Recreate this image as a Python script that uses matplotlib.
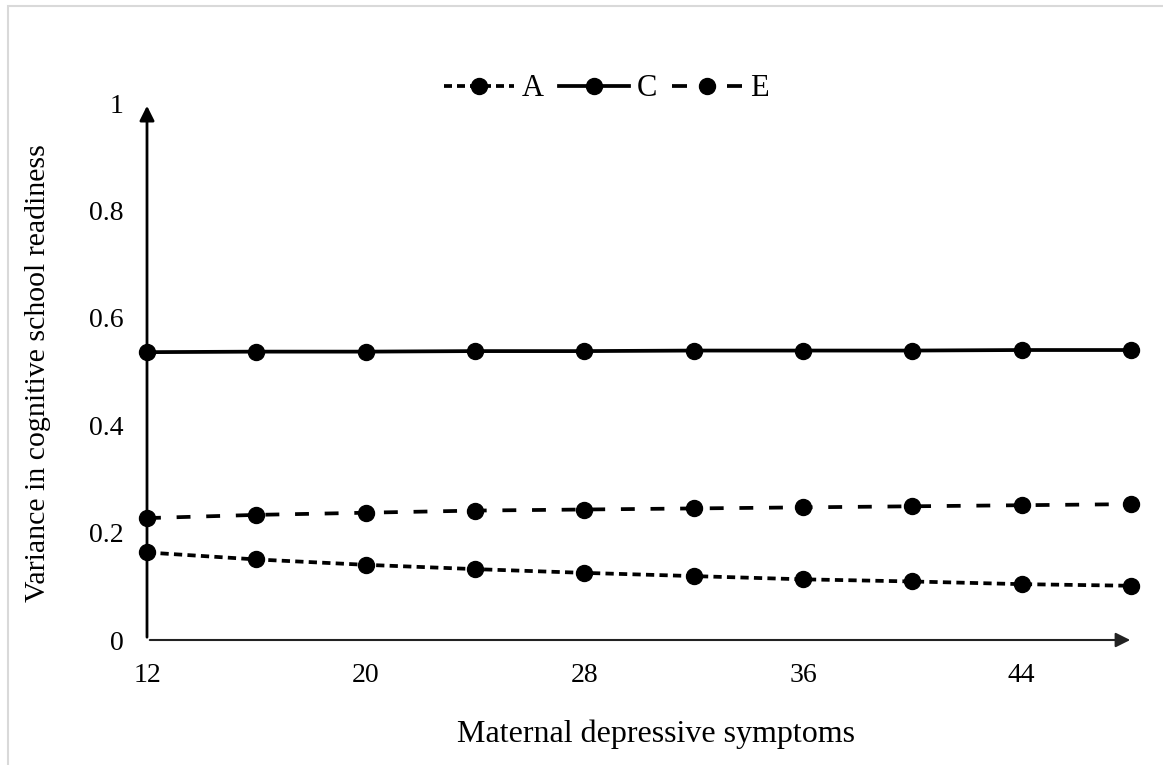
import matplotlib
matplotlib.use("Agg")
import matplotlib.pyplot as plt
from matplotlib.patches import Rectangle
from matplotlib.lines import Line2D

plt.rcParams['font.family'] = ['Liberation Serif', 'DejaVu Serif']

x = [12, 16, 20, 24, 28, 32, 36, 40, 44, 48]
A = [0.163, 0.150, 0.140, 0.132, 0.125, 0.119, 0.113, 0.109, 0.104, 0.101]
C = [0.536, 0.537, 0.537, 0.538, 0.538, 0.539, 0.539, 0.539, 0.540, 0.540]
E = [0.227, 0.233, 0.237, 0.241, 0.243, 0.245, 0.247, 0.249, 0.251, 0.253]
series_names = ['A', 'C', 'E']
xticks = [12, 20, 28, 36, 44]
yticks = [0, 0.2, 0.4, 0.6, 0.8, 1]
ytick_labels = ['0', '0.2', '0.4', '0.6', '0.8', '1']

W, H = 1163, 765
fig = plt.figure(figsize=(W / 100, H / 100), dpi=100)

# light gray outer frame
fig.patches.append(Rectangle((8 / W, -0.01), 1.02, 1 - 6 / H + 0.01, transform=fig.transFigure,
                             fill=False, edgecolor='#d9d9d9', linewidth=1.5))

left, right = 147, 1131
top, bottom = 103, 640
ax = fig.add_axes([left / W, 1 - bottom / H, (right - left) / W, (bottom - top) / H])
ax.set_xlim(12, 48)
ax.set_ylim(0, 1)
for s in ax.spines.values():
    s.set_visible(False)

ms = 11.5
lw = 2.7
styleA = (0, (2.2, 1.4))
styleE = (0, (3.7, 4.2))
ax.plot(x, A, color='black', lw=lw, linestyle=styleA, marker='o', ms=ms, clip_on=False)
ax.plot(x, C, color='black', lw=lw, linestyle='-', marker='o', ms=ms, clip_on=False)
ax.plot(x, E, color='black', lw=lw, linestyle=styleE, marker='o', ms=ms, clip_on=False)

# axes with arrows
ax.annotate('', xy=(1.002, 0), xytext=(0, 0), xycoords='axes fraction',
            arrowprops=dict(arrowstyle='-|>', color='#222222', lw=1.5, mutation_scale=22), annotation_clip=False)
ax.annotate('', xy=(0, 1.0), xytext=(0, 0), xycoords='axes fraction',
            arrowprops=dict(arrowstyle='-|>', color='black', lw=2, mutation_scale=22), annotation_clip=False)

ax.set_xticks(xticks)
ax.set_xticklabels([str(v) for v in xticks])
ax.set_yticks(yticks)
ax.set_yticklabels(ytick_labels)
ax.tick_params(axis='both', length=0, labelsize=20)
ax.tick_params(axis='x', pad=16.5)
ax.tick_params(axis='y', pad=17)

fig.text(656 / W, 1 - 734 / H, 'Maternal depressive symptoms', ha='center', va='center', fontsize=23)
fig.text(38 / W, 1 - 373 / H, 'Variance in cognitive school readiness', ha='center', va='center',
         rotation=90, fontsize=21.5)

# legend handles
lw_px = lw * 100 / 72
hA = Line2D([], [], color='black', lw=lw, linestyle=(0, (8 / lw_px, 5 / lw_px)), marker='o', ms=ms)
hC = Line2D([], [], color='black', lw=lw, linestyle='-', marker='o', ms=ms)
hE = Line2D([], [], color='black', lw=lw, linestyle=(0, (15 / lw_px, 40 / lw_px)), marker='o', ms=ms)
fs_leg = 22
em = fs_leg * 100 / 72
fig.legend([hA, hC, hE], series_names, loc='center', bbox_to_anchor=(606 / W, 1 - 89 / H), ncol=3,
           frameon=False, fontsize=fs_leg, handlelength=70 / em, handletextpad=8 / em,
           columnspacing=15 / em, borderpad=0, borderaxespad=0)

fig.savefig('out.png', dpi=100)
